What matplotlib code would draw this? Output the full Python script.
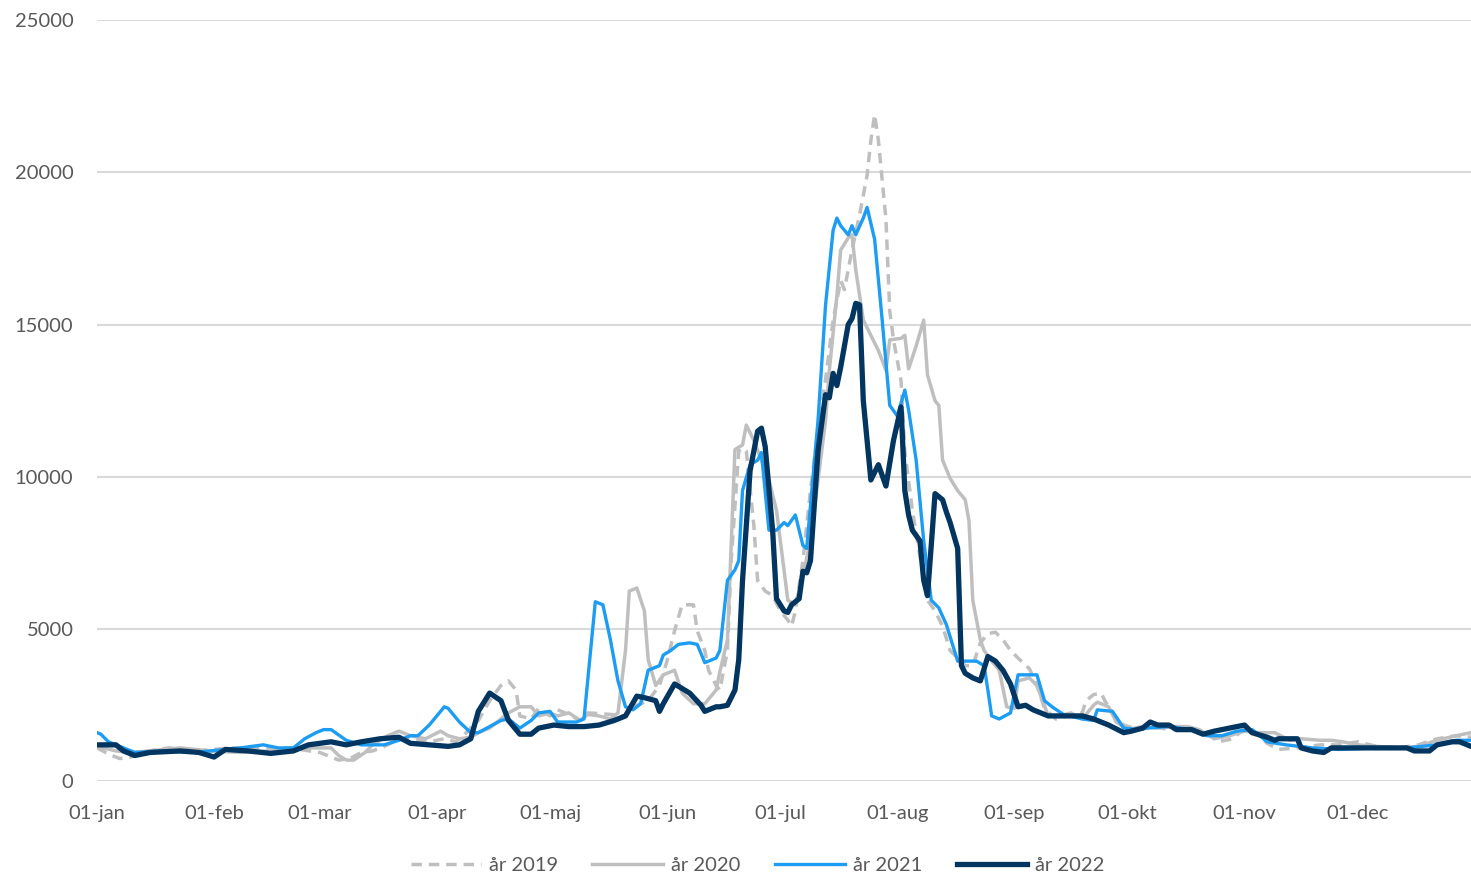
import matplotlib.pyplot as plt

# dag i året (0 = 01-jan) og værdi
days_2019 = [0, 3, 6, 9, 11, 19, 27, 35, 43, 51, 59, 64, 67, 70, 73, 77, 80, 84, 88, 92, 95, 97,
             101, 104, 107, 109, 111, 112, 115, 117, 120, 122, 125, 128, 130, 136, 140, 142, 146,
             149, 151, 153, 155, 158, 159, 161, 162, 164, 165, 167, 168, 170, 171, 172, 174, 175,
             177, 179, 181, 183, 184, 185, 187, 189, 191, 193, 195, 197, 198, 200, 202, 204, 205,
             206, 207, 209, 210, 211, 213, 214, 216, 218, 220, 222, 224, 226, 228, 230, 232, 234,
             236, 238, 240, 242, 244, 247, 249, 251, 254, 257, 261, 262, 264, 266, 267, 269, 272,
             276, 280, 284, 290, 294, 297, 301, 304, 307, 310, 313, 318, 324, 329, 334, 339, 345,
             350, 355, 360, 364]
vals_2019 = [1100, 900, 750, 800, 950, 1100, 1000, 1100, 1100, 1100, 950, 700, 750, 950, 1000,
             1200, 1400, 1350, 1300, 1400, 1300, 1500, 2000, 2650, 3150, 3300, 3000, 2150, 2050,
             2400, 2150, 2350, 2200, 2000, 2250, 2200, 2150, 2450, 2650, 3150, 3950, 4950, 5800,
             5800, 4950, 4300, 3650, 3150, 3000, 4300, 7250, 10850, 10950, 10850, 8400, 6600, 6250,
             6100, 5600, 5300, 5100, 5600, 7250, 9550, 11550, 13200, 15150, 16450, 16150, 17450,
             18600, 19900, 21050, 21900, 21050, 18450, 15450, 14500, 13150, 10850, 8900, 7400,
             5950, 5600, 5100, 4300, 4050, 3800, 3800, 4550, 4850, 4900, 4650, 4300, 4050, 3700,
             3150, 2400, 2050, 2150, 2250, 2650, 2850, 2900, 2650, 2250, 1850, 1700, 1800, 1700,
             1700, 1600, 1300, 1400, 1750, 1600, 1250, 1050, 1100, 1200, 1200, 1300, 1150, 1100,
             1200, 1400, 1500, 1450]

days_2020 = [0, 5, 9, 14, 22, 30, 38, 46, 54, 62, 64, 66, 68, 71, 73, 77, 80, 83, 87, 91, 93, 96,
             99, 101, 104, 107, 109, 112, 115, 117, 120, 122, 125, 128, 130, 133, 136, 138, 140,
             141, 143, 145, 146, 148, 150, 153, 155, 158, 161, 164, 165, 167, 169, 171, 172, 174,
             176, 178, 180, 182, 183, 185, 187, 189, 191, 193, 194, 196, 197, 199, 200, 201, 203,
             205, 207, 209, 210, 213, 214, 215, 217, 219, 220, 222, 223, 224, 226, 228, 230, 231,
             232, 234, 235, 237, 239, 241, 243, 244, 247, 249, 252, 255, 258, 261, 264, 265, 268,
             270, 273, 277, 281, 285, 289, 292, 296, 300, 304, 308, 312, 316, 319, 324, 327, 330,
             334, 339, 345, 350, 355, 360, 364]
vals_2020 = [1150, 1000, 950, 1000, 1100, 1000, 950, 1000, 1100, 1100, 850, 700, 700, 950, 1200,
             1500, 1650, 1500, 1400, 1650, 1500, 1400, 1450, 1600, 1750, 2050, 2250, 2450, 2450,
             2150, 2250, 2150, 2250, 2000, 2200, 2150, 2050, 2250, 4300, 6250, 6350, 5600, 4000,
             3150, 3500, 3650, 2900, 2550, 2550, 3000, 3600, 4650, 10900, 11050, 11700, 11200,
             10550, 9900, 8900, 6950, 5950, 5800, 6750, 7900, 9900, 11850, 13500, 15950, 17450,
             17850, 17950, 16800, 15150, 14650, 14150, 13500, 14500, 14550, 14650, 13550, 14300,
             15150, 13350, 12500, 12350, 10550, 9950, 9550, 9250, 8550, 5950, 4650, 4300, 3950,
             3650, 2450, 2400, 3300, 3400, 3150, 2150, 2150, 2250, 2050, 2500, 2600, 2450, 1950,
             1700, 1800, 1750, 1800, 1800, 1700, 1400, 1500, 1650, 1600, 1600, 1350, 1400, 1350,
             1350, 1300, 1200, 1150, 1100, 1150, 1350, 1500, 1600]

days_2021 = [0, 1, 3, 6, 10, 17, 25, 30, 38, 44, 48, 52, 55, 58, 60, 62, 66, 70, 76, 80, 83, 85,
             88, 92, 93, 96, 99, 101, 104, 107, 109, 112, 115, 117, 120, 122, 127, 129, 132, 134,
             136, 138, 140, 142, 144, 146, 149, 150, 152, 154, 157, 159, 161, 164, 165, 167, 169,
             170, 171, 173, 175, 176, 178, 180, 182, 183, 185, 187, 188, 191, 193, 195, 196, 197,
             199, 200, 201, 203, 204, 206, 208, 210, 212, 214, 215, 217, 219, 221, 223, 225, 227,
             228, 231, 233, 235, 236, 237, 239, 242, 244, 249, 251, 253, 256, 261, 264, 265, 269,
             272, 276, 278, 284, 290, 294, 298, 302, 306, 310, 315, 322, 329, 339, 347, 355, 360,
             364]
vals_2021 = [1600, 1550, 1300, 1150, 950, 1000, 950, 1000, 1100, 1200, 1100, 1100, 1400, 1600,
             1700, 1700, 1350, 1200, 1200, 1350, 1500, 1500, 1850, 2450, 2400, 1950, 1600, 1600,
             1800, 2000, 2050, 1750, 2000, 2250, 2300, 1950, 1950, 2050, 5900, 5800, 4650, 3300,
             2450, 2350, 2550, 3650, 3800, 4150, 4300, 4500, 4550, 4500, 3900, 4050, 4300, 6600,
             6950, 7250, 9550, 10400, 10550, 10800, 8250, 8250, 8500, 8400, 8750, 7750, 7650,
             11850, 15650, 18100, 18500, 18250, 17950, 18250, 17950, 18500, 18850, 17800, 15150,
             12350, 12000, 12850, 12200, 10550, 7900, 5950, 5700, 5150, 4350, 3950, 3950, 3950,
             3800, 3000, 2150, 2050, 2250, 3500, 3500, 2650, 2450, 2200, 2050, 2000, 2350, 2300,
             1750, 1700, 1750, 1800, 1700, 1500, 1500, 1650, 1700, 1300, 1200, 1100, 1050, 1100,
             1100, 1200, 1350, 1350]

days_2022 = [0, 5, 7, 10, 14, 22, 27, 31, 34, 40, 46, 52, 56, 62, 66, 70, 75, 80, 83, 88, 93, 96,
             99, 101, 104, 107, 109, 112, 115, 117, 121, 125, 129, 133, 137, 140, 143, 145, 148,
             149, 150, 153, 157, 160, 161, 164, 165, 167, 169, 170, 171, 173, 175, 176, 177, 179,
             180, 182, 183, 184, 186, 187, 188, 189, 191, 193, 194, 195, 196, 197, 199, 200, 201,
             202, 203, 205, 207, 208, 209, 211, 213, 214, 215, 216, 218, 219, 220, 221, 222, 224,
             225, 226, 228, 229, 230, 232, 234, 236, 238, 240, 242, 244, 246, 248, 252, 257, 261,
             264, 268, 272, 274, 277, 279, 281, 284, 286, 290, 293, 296, 298, 302, 304, 306, 310,
             312, 313, 318, 319, 322, 325, 327, 333, 339, 347, 349, 353, 355, 359, 361, 364]
vals_2022 = [1200, 1200, 1000, 850, 950, 1000, 950, 800, 1050, 1000, 920, 1000, 1200, 1300, 1200,
             1300, 1400, 1450, 1250, 1200, 1150, 1200, 1400, 2300, 2900, 2650, 2000, 1550, 1550,
             1750, 1850, 1800, 1800, 1850, 2000, 2150, 2800, 2750, 2650, 2300, 2550, 3200, 2900,
             2500, 2300, 2450, 2450, 2500, 3000, 4000, 6600, 10200, 11500, 11600, 11000, 8200,
             6000, 5600, 5550, 5800, 6000, 6900, 6850, 7250, 10850, 12700, 12600, 13400, 13000,
             13600, 15000, 15200, 15700, 15650, 12500, 9900, 10400, 10050, 9700, 11200, 12300,
             9550, 8750, 8250, 7900, 6600, 6100, 7750, 9450, 9250, 8850, 8500, 7650, 3800, 3550,
             3400, 3300, 4100, 3950, 3650, 3200, 2450, 2500, 2350, 2150, 2150, 2150, 2050, 1850,
             1600, 1650, 1750, 1950, 1850, 1850, 1700, 1700, 1550, 1650, 1700, 1800, 1850, 1600,
             1450, 1350, 1400, 1400, 1100, 1000, 950, 1100, 1100, 1100, 1100, 1000, 1000, 1200,
             1300, 1300, 1150]

month_days = [0, 31, 59, 90, 120, 151, 181, 212, 243, 273, 304, 334]
month_labels = ['01-jan', '01-feb', '01-mar', '01-apr', '01-maj', '01-jun',
                '01-jul', '01-aug', '01-sep', '01-okt', '01-nov', '01-dec']
y_ticks = [0, 5000, 10000, 15000, 20000, 25000]

plt.rcParams['font.family'] = ['Lato', 'DejaVu Sans']

fig = plt.figure(figsize=(14.71, 8.76), dpi=100)
ax = fig.add_axes([0.066, 0.108, 0.934, 0.869])

ax.plot(days_2019, vals_2019, color='#bfbfbf', lw=2.5, ls=(0, (3, 2)), label='år 2019', zorder=2)
ax.plot(days_2020, vals_2020, color='#bfbfbf', lw=2.5, label='år 2020', zorder=3)
ax.plot(days_2021, vals_2021, color='#1c9cf2', lw=2.4, label='år 2021', zorder=4)
ax.plot(days_2022, vals_2022, color='#02355f', lw=3.8, label='år 2022', zorder=5)

ax.set_xlim(0, 364)
ax.set_ylim(0, 25000)
ax.set_xticks(month_days)
ax.set_xticklabels(month_labels)
ax.set_yticks(y_ticks)
ax.set_yticklabels([str(v) for v in y_ticks])
ax.tick_params(axis='both', length=0, labelsize=14.5, labelcolor='#595959')
ax.tick_params(axis='x', pad=17)
ax.tick_params(axis='y', pad=17)
ax.grid(axis='y', color='#d9d9d9', lw=1.5)
ax.set_axisbelow(True)
for s in ax.spines.values():
    s.set_visible(False)

leg = fig.legend(loc='lower center', bbox_to_anchor=(0.515, -0.018), ncol=4, frameon=False,
                 fontsize=14.5, handlelength=3.5, columnspacing=1.7, handletextpad=0.4)
for t in leg.get_texts():
    t.set_color('#595959')

fig.savefig('out.png', dpi=100)
